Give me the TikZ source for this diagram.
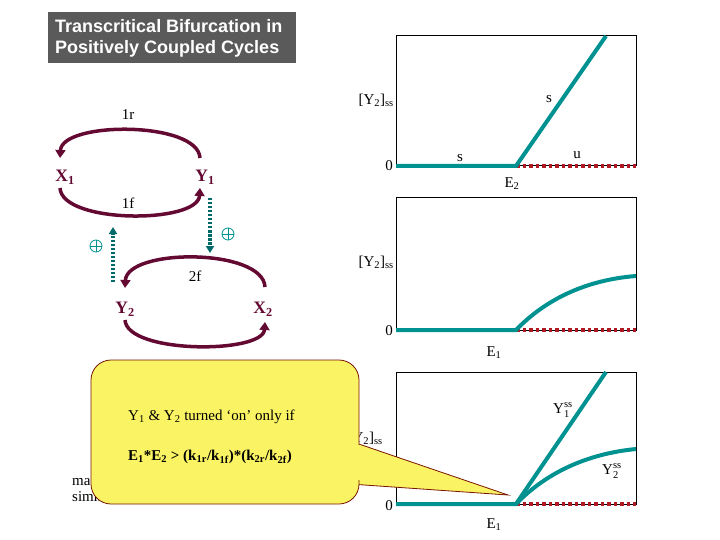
\documentclass[tikz,border=0pt]{standalone}
\usepackage{fontspec}
\setmainfont{Liberation Serif}
\newfontfamily\titlefont{Liberation Sans}
\usetikzlibrary{arrows.meta}
\definecolor{maroon}{RGB}{100,10,50}
\definecolor{tealg}{RGB}{0,145,145}
\definecolor{tealdk}{RGB}{0,105,105}
\definecolor{reddot}{RGB}{175,25,35}
\definecolor{callfill}{RGB}{250,244,100}
\definecolor{callline}{RGB}{120,20,0}
\definecolor{titlebg}{RGB}{90,90,90}
\newcommand{\ysss}[1]{Y\rlap{\raisebox{0.9ex}{\fontsize{10.5}{11}\selectfont ss}}\raisebox{-0.55ex}{\fontsize{10.5}{11}\selectfont #1}\kern1.1ex}
\tikzset{
  x=1pt, y=-1pt,
  lbl/.style={font=\fontsize{15}{17}\selectfont, inner sep=0pt},
  spec/.style={font=\fontsize{17.5}{19}\selectfont\bfseries, text=maroon, inner sep=0pt},
  cyc/.style={draw=maroon, line width=3.5pt, -{Triangle[length=8pt,width=10pt]}},
  dasharr/.style={draw=tealdk, line width=3.5pt, dash pattern=on 2.5pt off 1.5pt, -{Triangle[length=7pt,width=8pt]}},
  oplus/.style={circle, draw=tealg, line width=0.8pt, minimum size=12pt, inner sep=0pt,
    path picture={\draw[tealg, line width=0.8pt] (path picture bounding box.north) -- (path picture bounding box.south)
      (path picture bounding box.west) -- (path picture bounding box.east);}},
  frame/.style={draw=black, line width=1pt},
  stab/.style={draw=tealg, line width=4pt},
  unst/.style={draw=reddot, line width=3.5pt, dash pattern=on 3.5pt off 3pt},
  callout/.style={fill=callfill, draw=callline, line width=0.8pt},
}
\begin{document}
\begin{tikzpicture}
\useasboundingbox (0,0) rectangle (720,540);
% title
\node[fill=titlebg, minimum width=248pt, minimum height=51pt, anchor=north west, inner sep=0pt] (titlebox) at (48,12) {};
\node[anchor=west, text=white, font=\titlefont\bfseries\fontsize{18}{21}\selectfont, align=left, inner sep=0pt] (title) at (55,38)
  {Transcritical Bifurcation in\\Positively Coupled Cycles};

% cycle 1
\node[spec] (X1) at (65,177) {X\textsubscript{1}};
\node[spec] (Y1) at (205,177) {Y\textsubscript{1}};
\coordinate (X1t) at (60,158); \coordinate (X1b) at (60,188);
\coordinate (Y1t) at (200,158); \coordinate (Y1b) at (200,188);
\draw[cyc] (Y1t) .. controls (198,121) and (62,121) .. (X1t);
\draw[cyc] (X1b) .. controls (62,224) and (198,224) .. (Y1b);
\node[lbl] (l1r) at (128,115) {1r};
\node[lbl] (l1f) at (128,203) {1f};

% cycle 2
\node[spec] (Y2) at (125,309) {Y\textsubscript{2}};
\node[spec] (X2) at (263,309) {X\textsubscript{2}};
\coordinate (X2t) at (265,287); \coordinate (X2b) at (265,322);
\coordinate (Y2t) at (125,288); \coordinate (Y2b) at (125,320);
\draw[cyc] (X2t) .. controls (263,248) and (127,248) .. (Y2t);
\draw[cyc] (Y2b) .. controls (127,354) and (263,354) .. (X2b);
\node[lbl] (l2f) at (195,276) {2f};
\node[lbl] (l2r) at (192,366) {2r};

% coupling arrows
\coordinate (d1s) at (210,198); \coordinate (d1e) at (210,253);
\coordinate (d2s) at (113,282); \coordinate (d2e) at (113,227);
\draw[dasharr] (d1s) -- (d1e);
\draw[dasharr] (d2s) -- (d2e);
\node[oplus] (p1) at (228,234) {};
\node[oplus] (p2) at (96,246) {};

% hidden text
\node[lbl, anchor=west] (ma) at (72,482) {ma};
\node[lbl, anchor=west] (simm) at (72,497) {simm};

% panel 1
\draw[frame] (396,36) rectangle (636,166);
\coordinate (o1) at (396,166); \coordinate (b1) at (516,166);
\coordinate (t1) at (606,36); \coordinate (r1) at (636,166);
\draw[unst] (b1) -- (r1);
\draw[stab] (o1) -- (b1) -- (t1);
\node[lbl, anchor=east] (ya) at (394,100) {[Y\textsubscript{2}]\textsubscript{ss}};
\node[lbl, anchor=east] (za) at (393,166) {0};
\node[lbl] (sa) at (460,158) {s};
\node[lbl] (ua) at (577,155) {u};
\node[lbl] (sb) at (549,99) {s};
\node[lbl] (ea) at (512,184) {E\textsubscript{2}};

% panel 2
\draw[frame] (396,198) rectangle (636,330);
\coordinate (o2) at (396,330); \coordinate (b2) at (516,330);
\coordinate (r2) at (636,330); \coordinate (c2) at (636,276);
\draw[unst] (b2) -- (r2);
\draw[stab] (o2) -- (b2) .. controls (545,300) and (585,280) .. (c2);
\node[lbl, anchor=east] (yb) at (394,262) {[Y\textsubscript{2}]\textsubscript{ss}};
\node[lbl, anchor=east] (zb) at (393,331) {0};
\node[lbl] (eb) at (494,353) {E\textsubscript{1}};

% panel 3
\draw[frame] (396,372) rectangle (636,504);
\coordinate (o3) at (396,504); \coordinate (b3) at (516,504);
\coordinate (r3) at (636,504); \coordinate (t3) at (606,372);
\coordinate (c3) at (636,449);
\draw[unst] (b3) -- (r3);
\draw[stab] (o3) -- (b3) -- (t3);
\draw[stab] (b3) .. controls (545,474) and (585,454) .. (c3);
\node[lbl] (y1ss) at (565,410) {\ysss{1}};
\node[lbl] (y2ss) at (614,471) {\ysss{2}};
\node[lbl, anchor=east] (yc) at (383,438) {[Y\textsubscript{2}]\textsubscript{ss}};
\node[lbl, anchor=east] (zc) at (393,506) {0};
\node[lbl] (ec) at (494,525) {E\textsubscript{1}};

% callout
\coordinate (tip) at (508,495);
\path[callout] (tip) -- (350,441) -- (350,484) -- cycle;
\path[callout, rounded corners=20pt] (91,360) rectangle (359,504);
\fill[callfill] (356,445) rectangle (361,480.2);
\node[lbl, anchor=west] (cond1) at (128,417) {Y\textsubscript{1} \& Y\textsubscript{2} turned ‘on’ only if};
\node[lbl, anchor=west, font=\fontsize{15}{17}\selectfont\bfseries] (cond2) at (128,457)
  {E\textsubscript{1}*E\textsubscript{2} > (k\textsubscript{1r}/k\textsubscript{1f})*(k\textsubscript{2r}/k\textsubscript{2f})};
\end{tikzpicture}
\end{document}
